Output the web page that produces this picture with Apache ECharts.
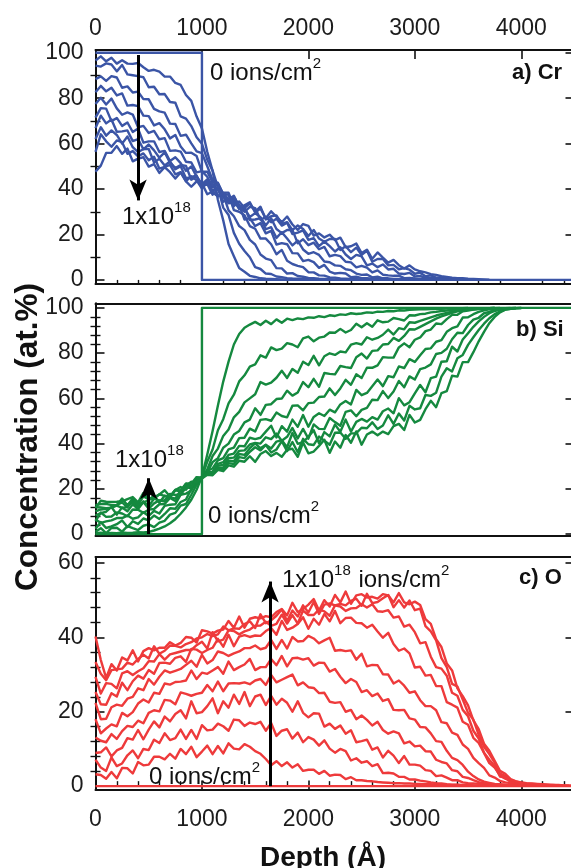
<!DOCTYPE html>
<html>
<head>
<meta charset="utf-8">
<script src="https://cdn.jsdelivr.net/npm/echarts@6/dist/echarts.min.js"></script>
<style>
  html, body { margin: 0; padding: 0; background: #fff; }
  #chart { width: 571px; height: 868px; }
</style>
</head>
<body>
<div id="chart"></div>
<script>
// Depth grid of the sputter profiles (Å)
const DEPTH = [0,50,100,150,200,250,300,350,400,450,500,550,600,650,700,750,800,850,900,950,
  1000,1050,1100,1150,1200,1250,1300,1350,1400,1450,1500,1550,1600,1650,1700,1750,1800,1850,1900,1950,
  2000,2050,2100,2150,2200,2250,2300,2350,2400,2450,2500,2550,2600,2650,2700,2750,2800,2850,2900,2950,
  3000,3050,3100,3150,3200,3250,3300,3350,3400,3450,3500,3550,3600,3650,3700,3750,3800,3850,3900,3950,
  4000,4050,4100,4150,4200,4250,4300,4350,4400,4450,4500];

// Implantation doses, ions/cm^2 (index 0 = as deposited)
const DOSES = ['0', '1e17', '2e17', '3e17', '4e17', '5e17', '6e17', '7e17', '8e17', '9e17', '1e18'];

// Axis ticks
const X_TICKS = [0, 1000, 2000, 3000, 4000];
const X_MINOR = [200,400,600,800,1200,1400,1600,1800,2200,2400,2600,2800,3200,3400,3600,3800,4200,4400];
const Y_TICKS_100 = [0, 20, 40, 60, 80, 100];
const Y_MINOR_CR = [10, 30, 50, 70, 90];
const Y_MINOR_SI = [4,8,12,16,24,28,32,36,44,48,52,56,64,68,72,76,84,88,92,96];
const Y_TICKS_60 = [0, 20, 40, 60];
const Y_MINOR_O = [4,8,12,16,24,28,32,36,44,48,52,56];

// ---- a) Cr (at.%) ----
const CR_0_X = [0, 1000, 1000, 4500];
const CR_0_Y = [100, 100, 0, 0];
const CR_1 = [96.6,98.4,96.2,97.8,95.2,96.7,95.2,95.1,95.5,93.6,92.0,92.5,91.7,89.5,89.5,86.7,85.8,81.4,78.8,71.9,
  66.6,56.4,48.0,35.2,26.2,15.8,10.4,5.2,3.6,1.8,1.3,0.7,0.5,0.4,0.3,0.2,0.2,0.2,0.1];
const CR_2 = [94.3,93.9,95.3,94.8,91.8,94.6,90.5,90.1,89.7,89.2,84.8,85.0,81.7,81.8,78.3,78.0,72.0,71.0,67.7,62.8,
  59.9,52.9,48.1,40.8,31.8,28.6,20.7,15.9,12.7,10.0,5.6,4.8,2.8,2.6,1.5,1.2,0.8,0.6,0.5,0.4,0.3,0.2,0.1];
const CR_3 = [88.4,89.6,87.6,89.7,89.1,84.6,85.2,82.5,82.9,79.6,79.5,75.3,74.2,73.6,68.8,68.6,63.4,63.9,60.1,56.6,
  55.8,50.0,44.0,42.3,37.7,30.6,28.0,23.7,21.9,17.6,15.6,11.2,9.4,8.7,5.2,5.1,2.8,3.0,1.7,1.4,
  0.9,0.7,0.5,0.4,0.3,0.2,0.1];
const CR_4 = [82.6,85.4,83.0,84.6,81.2,82.1,76.7,77.0,76.5,72.3,72.1,68.0,69.0,66.3,62.3,63.8,58.7,55.9,56.0,54.5,
  47.6,47.6,43.0,42.8,37.8,37.5,30.7,30.0,28.5,23.7,22.5,18.2,18.2,15.7,11.3,13.2,8.4,7.0,6.2,5.6,
  3.4,3.3,2.0,1.9,1.1,1.0,0.6,0.5,0.4,0.3,0.2,0.1];
const CR_5 = [77.4,80.2,77.2,79.8,75.5,72.7,73.7,72.8,67.2,67.8,64.7,65.6,61.9,62.4,56.8,57.0,56.5,52.0,51.7,47.3,
  47.9,45.4,40.8,42.4,36.7,33.7,34.1,33.0,26.6,27.2,23.7,25.0,20.5,21.6,15.6,16.2,15.7,11.8,11.7,8.3,
  8.8,7.8,5.3,6.6,3.7,2.8,3.1,2.8,1.2,1.4,0.8,0.8,0.5,0.4,0.3,0.2,0.1];
const CR_6 = [71.4,75.6,75.4,69.9,71.3,67.8,69.3,65.1,66.6,60.4,61.0,61.0,56.3,56.8,52.3,54.0,51.4,48.0,49.9,45.4,
  42.2,44.2,42.4,36.9,37.1,34.2,34.9,31.3,32.0,26.4,26.6,27.2,22.3,23.2,18.5,21.0,18.2,15.2,17.3,13.4,
  11.5,12.2,11.0,8.1,7.8,6.4,6.2,4.7,4.3,2.8,2.2,2.4,1.1,1.4,0.7,0.7,0.4,0.4,0.3,0.2,0.1];
const CR_7 = [66.8,72.3,68.9,70.6,65.2,65.4,65.8,61.1,62.0,57.5,59.6,57.0,53.8,56.1,51.6,49.2,50.6,50.2,44.1,45.5,
  41.6,43.7,39.1,41.0,34.4,35.6,35.2,31.3,31.4,27.7,29.4,27.6,24.0,27.1,22.4,20.6,22.0,22.0,16.1,17.9,
  15.3,16.4,13.5,14.5,10.4,11.0,10.5,8.0,7.7,5.5,6.2,5.4,3.3,4.2,2.3,2.0,1.8,1.9,0.8,0.9,
  0.6,0.5,0.4,0.3,0.1];
const CR_8 = [62.0,67.2,63.5,65.8,63.8,60.0,63.1,58.4,56.2,57.6,57.6,51.7,53.3,50.4,52.1,48.7,50.0,44.8,45.2,46.0,
  40.9,42.2,37.5,40.0,37.4,34.4,36.7,32.6,30.0,32.2,31.6,26.5,27.7,25.4,26.9,23.9,25.2,20.2,20.8,21.8,
  17.6,18.4,14.9,16.9,14.9,12.5,14.4,11.2,9.2,11.0,10.4,6.4,7.2,5.6,6.8,4.6,4.9,2.8,2.6,3.1,
  1.5,1.8,0.8,1.0,0.5,0.5,0.3,0.3,0.2,0.2,0.1];
const CR_9 = [56.4,64.1,61.0,58.6,61.4,60.6,55.5,56.7,54.4,55.7,52.7,54.2,49.0,49.8,50.6,46.5,47.4,43.5,45.6,43.8,
  40.2,43.3,38.6,36.8,38.4,38.4,32.5,34.5,31.6,33.7,30.1,32.2,26.6,28.0,28.4,24.7,25.4,21.9,24.0,22.4,
  19.3,22.0,18.2,16.8,18.0,18.0,13.2,14.8,12.2,14.2,11.0,12.8,8.0,9.2,9.2,6.4,6.6,4.7,5.2,4.5,
  2.7,3.2,1.6,2.0,1.0,1.1,0.6,0.5,0.4,0.3,0.2,0.1];
const CR_10 = [47.6,50.3,55.9,56.0,58.9,55.5,57.8,52.2,53.4,54.0,49.9,51.0,47.1,49.6,47.4,44.6,47.3,43.4,41.0,43.4,
  42.6,37.7,38.9,36.8,38.3,35.5,37.0,32.2,32.8,34.2,29.7,31.4,27.1,30.2,27.8,25.4,27.9,24.4,22.0,24.6,
  23.8,19.5,20.5,18.7,19.9,17.5,18.6,14.4,14.8,16.0,11.8,13.3,9.3,12.1,9.8,7.6,8.8,6.5,5.0,6.4,
  4.6,3.8,3.3,2.5,2.2,1.6,1.3,1.0,0.8,0.7,0.5,0.4,0.3,0.2,0.1];

// ---- b) Si (at.%) ----
const SI_0_X = [0, 1000, 1000, 4500];
const SI_0_Y = [0, 0, 100, 100];
const SI_1 = [0.4,0.6,0.3,0.5,0.4,0.7,0.5,0.6,0.8,0.7,1.0,1.6,2.4,3.4,4.8,6.6,9.0,11.8,15.2,19.6,
  25.4,35.2,45.6,56.8,67.4,76.2,83.8,88.4,91.2,92.6,93.8,92.4,94.3,92.8,94.9,93.4,95.2,94.6,95.3,95.0,
  95.8,95.6,96.3,95.9,96.7,96.4,97.1,96.9,97.6,97.3,97.5,98.0,97.8,98.3,98.2,98.6,98.5,98.9,98.8,99.1,
  99.2,99.3,99.4,99.5,99.5,99.6,99.7,99.7,99.8,99.8,99.9];
const SI_2 = [1.0,2.6,0.4,2.7,2.8,1.1,3.5,2.6,1.8,3.7,4.3,3.1,5.1,5.9,8.6,9.4,12.6,13.3,17.4,21.8,
  25.2,32.0,37.4,45.9,50.8,57.8,61.6,67.5,70.2,74.0,75.0,79.0,78.0,82.5,81.3,82.0,84.4,83.8,82.6,86.5,
  87.3,85.2,86.8,87.3,89.1,89.0,90.7,89.1,90.2,93.0,91.4,93.2,91.6,94.5,93.6,93.9,95.5,95.0,94.4,96.7,
  96.6,97.2,97.4,98.0,98.2,98.6,98.8,99.1,99.2,99.4,99.5,99.6,99.7,99.7,99.8,99.9];
const SI_3 = [2.4,5.3,2.7,3.4,4.4,6.0,3.1,5.7,4.5,6.9,6.1,8.2,6.7,8.9,11.4,11.2,14.2,15.3,20.0,22.3,
  25.0,28.6,34.5,37.8,43.4,46.2,51.6,54.0,58.2,60.0,61.8,67.2,66.1,66.9,69.1,72.2,69.0,73.0,71.3,76.2,
  74.7,78.8,74.6,78.6,79.9,79.2,80.7,80.3,83.7,84.4,83.8,87.0,85.9,86.7,88.1,90.4,88.2,91.0,90.5,93.6,
  93.4,94.2,95.0,95.8,96.6,97.2,97.8,98.3,98.7,99.1,99.3,99.5,99.6,99.7,99.8,99.9];
const SI_4 = [6.4,5.0,5.6,6.1,7.1,7.1,8.2,6.8,7.4,9.7,8.0,10.3,9.1,12.5,13.0,13.2,17.4,17.9,19.3,23.5,
  25.2,27.2,31.8,33.6,38.2,40.0,44.0,45.6,49.4,50.6,55.6,52.7,57.1,57.4,59.7,59.9,63.4,61.2,62.6,67.2,
  64.9,68.6,65.1,71.2,70.8,70.6,74.3,73.8,73.4,78.2,79.8,77.6,81.0,81.2,83.8,84.0,86.7,85.4,87.6,90.5,
  90.4,91.6,92.8,94.0,95.2,96.2,97.0,97.8,98.4,98.9,99.2,99.4,99.6,99.7,99.8,99.9];
const SI_5 = [5.8,9.5,7.6,7.8,9.6,9.1,7.9,10.9,10.8,9.4,10.8,11.1,13.2,13.3,16.0,14.6,17.4,20.7,20.4,23.9,
  25.0,28.0,29.0,32.6,33.6,37.4,38.2,42.4,42.6,46.6,45.4,50.5,50.8,50.1,53.7,52.2,51.6,56.7,56.9,54.7,
  57.9,58.1,60.6,60.8,64.4,61.5,64.4,68.2,66.0,70.6,69.0,73.5,73.5,74.6,78.2,78.0,78.0,82.5,84.3,82.6,
  85.9,86.9,89.7,90.4,93.1,92.8,95.0,96.9,96.9,98.5,98.8,99.2,99.5,99.6,99.7,99.8,99.9];
const SI_6 = [8.3,9.3,9.9,12.0,8.6,11.8,10.1,13.2,11.1,14.2,11.2,13.6,14.9,14.4,16.3,15.7,19.3,20.4,20.8,25.0,
  25.0,27.4,27.6,31.0,31.8,35.0,35.6,39.0,38.8,42.6,42.0,42.6,45.3,47.9,42.7,47.7,45.3,50.6,47.4,52.6,
  47.5,51.8,53.4,52.2,55.0,53.8,57.3,58.8,57.3,63.7,61.4,62.4,65.3,68.3,65.4,69.8,69.3,74.1,73.4,77.3,
  76.1,79.0,81.8,82.1,85.0,85.7,89.4,91.0,91.8,95.7,95.8,97.2,98.2,98.9,99.3,99.6,99.7,99.8,99.9];
const SI_7 = [10.0,10.9,11.2,11.7,12.6,11.6,12.0,14.5,11.8,14.5,12.3,15.7,14.8,15.0,17.8,17.3,17.7,21.3,23.2,22.4,
  25.2,27.0,27.2,30.2,30.6,33.6,33.8,36.8,37.0,39.6,40.3,40.0,42.8,42.0,44.4,41.3,43.0,46.9,42.3,46.5,
  42.2,48.5,46.5,46.4,51.3,49.5,47.9,54.0,54.7,52.1,54.9,55.8,59.4,59.2,63.2,60.1,63.0,67.7,64.9,69.7,
  68.3,72.9,73.6,75.0,79.6,80.1,81.9,86.1,89.0,88.8,92.4,94.8,95.6,97.6,98.2,99.1,99.4,99.6,99.8,99.9];
const SI_8 = [11.9,11.8,11.5,11.7,12.9,14.0,11.8,15.8,12.9,13.9,15.1,17.0,14.0,17.0,16.3,19.4,18.9,22.2,21.0,23.8,
  25.0,26.8,26.8,29.4,29.4,32.4,32.2,35.4,35.0,38.0,40.1,37.9,39.5,37.8,40.9,41.5,38.4,44.7,39.9,40.7,
  43.0,45.9,40.1,45.1,43.2,48.4,45.2,50.6,45.3,49.6,50.9,49.7,51.7,50.6,54.3,55.5,53.4,60.1,56.9,58.3,
  62.2,65.9,62.7,68.9,69.6,76.2,76.4,82.8,80.7,86.0,88.8,91.6,94.0,96.0,97.6,98.6,99.2,99.6,99.8,99.9];
const SI_9 = [12.8,13.3,13.4,12.8,12.8,15.7,12.8,15.7,12.9,16.7,15.4,15.6,17.6,16.9,16.5,19.5,20.8,19.6,22.6,23.1,
  24.8,26.6,26.4,29.0,28.8,31.4,31.0,34.0,33.6,36.4,38.4,37.0,39.4,36.1,37.4,41.1,36.7,40.7,36.2,42.1,
  39.7,39.4,43.1,41.3,39.5,44.8,44.9,42.1,44.5,44.6,47.0,46.8,49.4,46.5,48.0,52.5,48.7,53.3,50.2,56.7,
  55.1,55.6,61.5,61.1,62.5,69.6,73.3,71.9,77.7,79.2,83.6,87.0,90.2,93.0,95.4,97.2,98.4,99.2,99.6,99.8,99.9];
const SI_10 = [11.6,14.8,14.3,14.2,14.3,14.5,15.5,16.4,14.0,18.2,15.5,16.3,17.5,19.4,16.6,19.6,19.3,22.4,22.3,25.2,
  24.6,26.2,26.0,28.4,27.8,30.4,29.8,32.4,32.0,34.4,31.9,35.4,36.7,34.5,35.9,34.2,37.3,37.7,34.2,40.5,
  35.7,36.5,39.0,41.7,35.9,40.9,38.2,43.8,40.4,45.4,39.5,44.0,45.3,43.7,45.3,44.2,47.7,48.7,46.0,52.7,
  49.3,50.5,55.2,58.9,56.1,62.3,63.2,70.0,69.6,76.0,76.0,80.4,85.2,89.4,93.2,96.0,98.0,99.2,99.6,99.8,99.9];

// ---- c) O (at.%) ----
const O_0_X = [0, 4500];
const O_0_Y = [0, 0];
const O_1 = [3.2,3.0,2.0,3.8,2.1,4.9,4.8,3.4,6.5,5.6,5.8,7.9,7.9,7.2,8.7,7.4,10.0,8.6,10.6,7.8,
  9.3,10.9,8.6,10.8,8.8,11.5,10.1,9.9,11.3,10.6,9.4,8.7,7.3,5.6,6.7,5.4,6.4,5.0,5.9,4.1,
  4.4,4.4,3.3,4.1,2.8,3.1,3.0,1.9,2.4,1.6,1.6,1.4,1.3,1.1,1.0,0.9,0.8,0.8,0.7,0.7,
  0.6,0.6,0.5,0.5,0.4,0.4,0.3,0.3,0.3,0.2,0.2,0.1];
const O_2 = [7.1,5.0,4.1,7.7,5.4,6.1,8.3,9.6,7.5,10.0,9.7,12.5,11.6,14.2,12.4,12.9,15.2,12.7,15.1,12.7,
  16.4,15.0,15.2,16.8,16.1,14.9,17.9,17.7,16.2,17.1,16.7,17.3,14.9,17.0,13.5,14.9,15.3,12.8,14.4,11.8,
  13.2,12.5,10.9,12.3,10.1,9.0,10.0,9.4,6.9,7.5,6.3,6.7,5.4,5.9,3.5,3.6,3.4,2.5,2.5,1.8,
  1.8,1.5,1.3,1.0,0.8,0.7,0.5,0.4,0.4,0.3,0.3,0.2,0.1];
const O_3 = [8.9,9.1,10.4,8.0,9.6,10.3,12.9,12.5,15.1,12.6,15.2,17.4,15.8,18.7,17.4,19.4,20.4,18.2,22.8,19.6,
  19.9,21.5,23.6,19.6,22.8,21.1,24.6,22.1,25.3,21.5,24.1,24.6,21.8,24.3,21.9,23.5,22.4,20.0,22.8,19.7,
  18.5,19.6,19.5,16.0,16.8,15.4,16.3,14.1,15.0,11.8,12.1,12.5,9.8,10.4,7.7,9.5,8.2,6.2,8.1,5.8,
  5.8,5.5,4.3,4.1,2.7,2.9,2.3,1.6,1.6,1.0,0.8,0.7,0.6,0.5,0.4,0.3,0.2,0.1];
const O_4 = [13.1,12.2,11.8,14.0,12.7,14.8,16.2,15.9,17.6,16.9,19.7,20.4,20.1,23.2,23.0,22.0,25.2,24.8,24.3,24.8,
  25.1,27.2,25.5,28.1,25.5,27.6,27.7,27.6,27.9,27.4,28.4,28.8,27.2,29.9,27.9,28.6,29.3,30.0,27.1,27.9,
  26.6,26.4,25.0,25.1,22.7,22.4,22.6,20.0,20.5,18.0,19.0,17.8,16.3,17.3,15.1,14.1,14.7,14.2,11.5,12.0,
  10.7,10.9,9.4,9.3,7.1,6.5,6.1,4.3,4.0,2.5,2.2,1.6,1.1,0.8,0.6,0.5,0.4,0.3,0.2,0.1];
const O_5 = [18.0,14.2,15.5,16.6,16.1,19.7,18.8,19.9,22.2,23.3,22.5,25.1,24.8,27.6,27.3,28.0,28.1,28.4,31.1,28.8,
  30.5,30.2,31.1,32.0,30.2,33.5,31.2,32.0,32.7,34.2,31.2,32.0,32.0,34.2,32.5,35.0,32.2,34.4,34.5,34.0,
  34.4,32.4,33.2,33.1,30.8,31.5,29.4,27.7,28.8,28.0,25.3,25.8,24.2,24.9,22.9,23.4,20.5,20.4,20.5,18.2,
  17.9,15.9,15.8,14.2,12.1,11.9,9.5,7.6,7.0,5.7,3.9,2.7,1.8,1.2,0.9,0.6,0.5,0.4,0.3,0.3,0.2,0.1];
const O_6 = [22.4,18.0,18.1,21.2,21.9,21.6,23.5,24.0,26.3,25.8,28.8,27.3,29.4,31.1,30.5,31.0,31.5,32.6,33.7,32.1,
  35.3,33.0,33.9,36.2,35.8,35.0,35.7,36.2,37.1,37.1,37.8,36.8,37.2,39.3,36.9,39.3,37.0,40.1,38.9,39.0,
  40.4,39.7,38.4,39.2,39.9,36.4,36.6,36.3,36.5,34.0,35.6,32.2,32.6,32.5,30.1,30.0,27.6,28.4,27.0,25.1,
  25.5,23.1,21.5,21.5,20.4,17.2,16.9,14.4,13.8,11.2,10.0,7.6,6.2,4.9,2.9,2.3,1.4,1.0,0.8,0.6,
  0.5,0.4,0.3,0.3,0.2,0.1];
const O_7 = [25.3,22.0,21.9,25.0,24.1,27.8,25.8,28.2,29.7,28.9,31.2,30.2,33.1,33.2,32.9,34.5,34.9,33.4,36.9,36.7,
  35.8,36.6,37.2,39.6,37.5,40.7,37.6,40.2,40.6,40.1,40.5,40.4,41.7,42.5,40.7,44.4,42.0,42.6,43.6,45.4,
  42.3,45.0,43.4,46.3,44.3,47.1,43.8,45.2,45.3,43.9,43.8,42.6,43.4,41.6,39.9,41.2,38.2,36.4,37.0,35.7,
  31.9,32.1,29.7,29.9,26.9,26.9,22.6,21.9,21.1,17.3,16.5,13.0,11.6,8.9,6.2,5.0,2.9,2.0,1.4,0.9,
  0.6,0.5,0.4,0.3,0.3,0.2,0.1];
const O_8 = [29.4,24.9,27.7,27.5,26.3,30.3,30.9,29.9,30.9,31.7,33.6,33.5,35.5,34.0,35.4,35.8,36.2,36.6,36.6,37.9,
  38.8,37.0,41.4,38.9,39.4,41.9,41.7,40.8,41.6,42.1,43.1,43.2,44.2,43.1,43.6,46.1,43.7,46.0,43.7,47.2,
  46.0,46.0,47.5,47.0,45.8,48.6,48.3,47.1,47.8,47.9,48.9,48.0,48.9,47.0,46.9,47.3,45.3,45.6,42.9,43.4,
  41.4,38.4,38.7,34.8,32.0,31.6,29.7,25.1,24.3,20.5,18.8,14.9,12.8,9.0,7.1,5.4,2.6,2.3,1.1,1.0,
  0.6,0.5,0.4,0.4,0.3,0.3,0.2,0.1];
const O_9 = [33.4,30.2,28.5,31.2,31.4,31.6,33.2,32.7,34.2,35.3,34.3,37.6,35.6,36.4,37.8,37.7,37.3,38.2,38.7,39.7,
  40.0,40.9,40.3,40.8,42.9,41.9,42.4,42.3,43.6,44.3,42.5,46.2,43.8,44.6,45.8,47.5,44.4,47.2,45.6,48.6,
  46.7,49.5,46.3,48.8,49.1,48.6,49.0,48.6,49.8,50.4,48.5,51.7,49.2,49.5,50.5,51.4,48.1,50.0,48.0,49.9,
  47.3,47.7,43.0,41.6,39.2,34.4,32.0,27.5,26.8,23.3,19.7,17.9,13.8,10.6,8.6,6.3,3.4,2.7,1.7,1.3,
  0.9,0.7,0.6,0.5,0.4,0.3,0.3,0.2,0.2,0.1];
const O_10 = [40.2,33.9,29.1,32.8,31.1,34.6,33.8,36.5,33.5,36.3,37.1,36.5,37.2,37.2,38.7,37.8,38.5,40.1,39.9,38.6,
  41.9,41.6,41.0,41.8,42.1,44.4,42.6,45.6,42.6,45.0,45.4,45.1,45.7,45.4,46.8,47.6,45.9,49.3,46.8,47.6,
  48.8,50.3,47.2,50.0,48.3,51.4,49.4,52.3,49.0,51.3,51.6,50.7,50.9,50.4,51.6,51.3,49.4,51.9,49.4,48.9,
  49.6,48.7,44.9,43.6,39.5,37.4,33.0,31.1,26.3,24.2,21.7,17.7,15.3,11.4,9.5,6.8,4.1,3.3,1.9,1.3,
  1.0,0.8,0.7,0.6,0.5,0.4,0.3,0.3,0.2,0.2,0.1];

const CR_PROFILES = [CR_1, CR_2, CR_3, CR_4, CR_5, CR_6, CR_7, CR_8, CR_9, CR_10];
const SI_PROFILES = [SI_1, SI_2, SI_3, SI_4, SI_5, SI_6, SI_7, SI_8, SI_9, SI_10];
const O_PROFILES = [O_1, O_2, O_3, O_4, O_5, O_6, O_7, O_8, O_9, O_10];

// Dose arrows: [depth, start concentration, tip concentration]
const ARROW_CR = [400, 99, 35];
const ARROW_SI = [500, 0, 24.7];
const ARROW_O = [1640, 0, 55];

// ------------------------------------------------------------------
const FONT = "'Liberation Sans', Arial, Helvetica, sans-serif";
const INK = '#111111';
const BLUE = '#3b55a6';
const GREEN = '#15893f';
const RED = '#ee3a3b';

const FRAME = { show: true, onZero: false, lineStyle: { color: INK, width: 2 } };
const HIDDEN = { show: false };
const TICK_FONT = { fontSize: 23, color: '#1c1c1c', fontFamily: FONT, formatter: v => String(v) };

function majorTick(values) {
  return { show: true, inside: true, length: 9, customValues: values, lineStyle: { color: INK, width: 1.6 } };
}
function minorTick(values) {
  return { show: true, inside: true, length: 5, customValues: values, lineStyle: { color: INK, width: 1.4 } };
}

function xAx(grid, position, extra) {
  return Object.assign({
    type: 'value', gridIndex: grid, position, min: 0, max: 4500,
    splitLine: HIDDEN, axisLine: FRAME, axisTick: HIDDEN, axisLabel: HIDDEN
  }, extra || {});
}
function yAx(grid, position, range, extra) {
  return Object.assign({
    type: 'value', gridIndex: grid, position, min: range[0], max: range[1],
    splitLine: HIDDEN, axisLine: FRAME, axisTick: HIDDEN, axisLabel: HIDDEN
  }, extra || {});
}

const RANGE_CR = [-1.8, 101.2];
const RANGE_SI = [-0.7, 102];
const RANGE_O = [-0.9, 61.6];

const xAxis = [
  // panel a
  xAx(0, 'bottom'),
  xAx(0, 'top', { axisTick: majorTick(X_TICKS),
    axisLabel: Object.assign({ show: true, customValues: X_TICKS, margin: 10 }, TICK_FONT) }),
  xAx(0, 'top', { axisLine: HIDDEN, axisTick: minorTick(X_MINOR) }),
  // panel b
  xAx(1, 'bottom'),
  xAx(1, 'top'),
  // panel c
  xAx(2, 'bottom', { axisTick: majorTick(X_TICKS),
    axisLabel: Object.assign({ show: true, customValues: X_TICKS, margin: 19 }, TICK_FONT) }),
  xAx(2, 'bottom', { axisLine: HIDDEN, axisTick: minorTick(X_MINOR) }),
  xAx(2, 'top')
];

function yFrame(grid, range, major, minor) {
  return [
    yAx(grid, 'left', range, { axisTick: majorTick(major),
      axisLabel: Object.assign({ show: true, customValues: major, margin: 12 }, TICK_FONT) }),
    yAx(grid, 'left', range, { axisLine: HIDDEN, axisTick: minorTick(minor) }),
    yAx(grid, 'right', range, { axisTick: majorTick(major) }),
    yAx(grid, 'right', range, { axisLine: HIDDEN, axisTick: minorTick(minor) })
  ];
}
const yAxis = [].concat(
  yFrame(0, RANGE_CR, Y_TICKS_100, Y_MINOR_CR),
  yFrame(1, RANGE_SI, Y_TICKS_100, Y_MINOR_SI),
  yFrame(2, RANGE_O, Y_TICKS_60, Y_MINOR_O)
);

function lineSeries(name, data, color, xi, yi) {
  return {
    type: 'line', name, xAxisIndex: xi, yAxisIndex: yi, data,
    showSymbol: false, symbol: 'none', silent: true, clip: true,
    lineStyle: { color, width: 2.4, join: 'round' }, itemStyle: { color }, emphasis: { disabled: true }
  };
}
function arrowMark(a) {
  return {
    silent: true, symbol: ['none', 'arrow'], symbolSize: [13, 21], animation: false,
    label: { show: false }, emphasis: { disabled: true },
    lineStyle: { color: '#000', width: 3, type: 'solid' },
    data: [[{ coord: [a[0], a[1]] }, { coord: [a[0], a[2]] }]]
  };
}

const series = [];
function panel(stepX, stepY, profiles, color, xi, yi, arrow, key) {
  series.push(lineSeries(key + ' ' + DOSES[0], stepX.map((x, i) => [x, stepY[i]]), color, xi, yi));
  profiles.forEach((vals, k) => {
    series.push(lineSeries(key + ' ' + DOSES[k + 1], vals.map((v, i) => [DEPTH[i], v]), color, xi, yi));
  });
  // dose arrow drawn above the profiles
  series.push(Object.assign(lineSeries(key + ' arrow', [], '#000', xi, yi), { markLine: arrowMark(arrow), z: 5 }));
}
panel(CR_0_X, CR_0_Y, CR_PROFILES, BLUE, 0, 0, ARROW_CR, 'Cr');
panel(SI_0_X, SI_0_Y, SI_PROFILES, GREEN, 3, 4, ARROW_SI, 'Si');
panel(O_0_X, O_0_Y, O_PROFILES, RED, 5, 8, ARROW_O, 'O');

// Annotation text with superscripts: parts are [text, isSuperscript]
const MAIN_SIZE = 24, SUP_SIZE = 15, SUP_RAISE = 9;
const measureCtx = document.createElement('canvas').getContext('2d');
function textWidth(str, size) {
  measureCtx.font = size + 'px ' + FONT;
  return measureCtx.measureText(str).width;
}
function note(x, y, parts) {
  const els = [];
  let cx = x;
  parts.forEach(([str, sup]) => {
    const size = sup ? SUP_SIZE : MAIN_SIZE;
    els.push({ type: 'text', x: cx, y: sup ? y - SUP_RAISE : y, z: 20, silent: true,
      style: { text: str, font: size + 'px ' + FONT, fill: INK,
        align: 'left', verticalAlign: 'middle', textAlign: 'left', textVerticalAlign: 'middle' } });
    cx += textWidth(str, size) + (sup ? 1 : 0);
  });
  return els;
}
function tag(x, y, text) {
  return { type: 'text', x, y, z: 20, silent: true,
    style: { text, font: "bold 22px " + FONT, fill: INK, align: 'left', verticalAlign: 'middle',
      textAlign: 'left', textVerticalAlign: 'middle' } };
}

const graphic = [].concat(
  note(210, 73, [['0 ions/cm', false], ['2', true]]),
  note(122, 217, [['1x10', false], ['18', true]]),
  note(115, 460, [['1x10', false], ['18', true]]),
  note(208, 516, [['0 ions/cm', false], ['2', true]]),
  note(282, 580, [['1x10', false], ['18', true], [' ions/cm', false], ['2', true]]),
  note(149, 777, [['0 ions/cm', false], ['2', true]]),
  [
    tag(512, 73, 'a) Cr'),
    tag(516, 330, 'b) Si'),
    tag(519, 578, 'c) O'),
    { type: 'text', x: 28, y: 437, rotation: Math.PI / 2, z: 20, silent: true,
      style: { text: 'Concentration (at.%)', font: "bold 31.5px " + FONT, fill: INK,
        align: 'center', verticalAlign: 'middle', textAlign: 'center', textVerticalAlign: 'middle' } },
    { type: 'text', x: 323, y: 858, z: 20, silent: true,
      style: { text: 'Depth (Å)', font: "bold 28px " + FONT, fill: INK,
        align: 'center', verticalAlign: 'middle', textAlign: 'center', textVerticalAlign: 'middle' } }
  ]
);

const chart = echarts.init(document.getElementById('chart'), null, { renderer: 'canvas' });
chart.setOption({
  animation: false,
  backgroundColor: '#ffffff',
  textStyle: { fontFamily: FONT },
  grid: [
    { left: 95.5, top: 50, width: 479, height: 234, containLabel: false, outerBoundsMode: 'none' },
    { left: 95.5, top: 303.3, width: 479, height: 232.4, containLabel: false, outerBoundsMode: 'none' },
    { left: 95.5, top: 557, width: 479, height: 232.5, containLabel: false, outerBoundsMode: 'none' }
  ],
  xAxis, yAxis, series, graphic
});
</script>
</body>
</html>
